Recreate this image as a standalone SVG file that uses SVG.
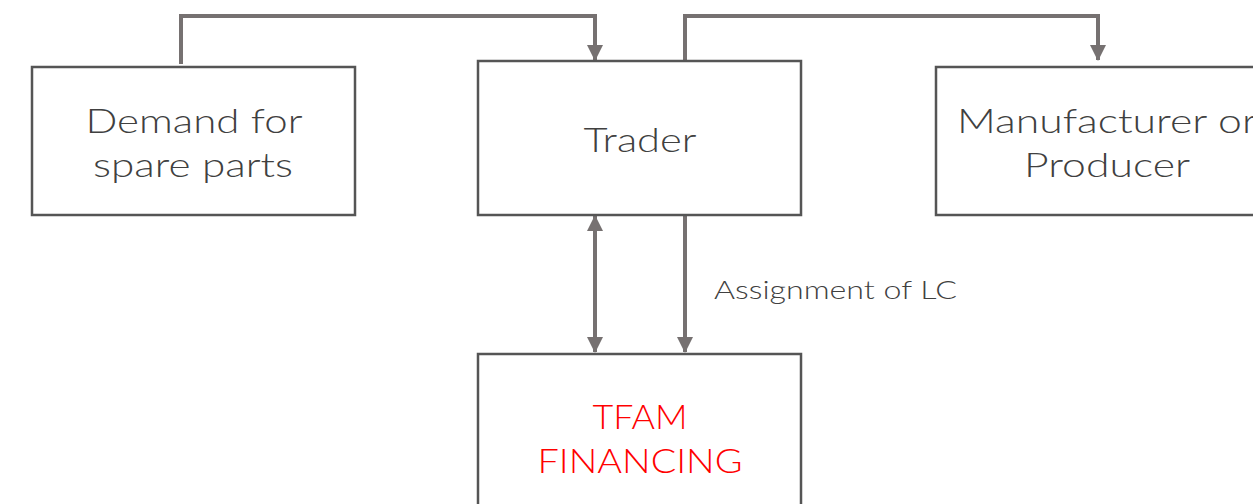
<svg xmlns="http://www.w3.org/2000/svg" width="1253" height="504" viewBox="0 0 1253 504">
<style>
.box{fill:#fff;stroke:#555;stroke-width:2.5}
.lbl{font-family:"Lato","Liberation Sans",sans-serif;font-weight:300;font-size:33px;fill:#404040;text-anchor:middle}
.red{fill:#ff0000}
.conn{fill:none;stroke:#767171;stroke-width:4}
.small{font-family:"Lato","Liberation Sans",sans-serif;font-weight:300;font-size:25px;fill:#404040}
</style>
<defs>
<marker id="ah" markerUnits="userSpaceOnUse" markerWidth="16" markerHeight="16" refX="15" refY="8" orient="auto-start-reverse" viewBox="0 0 16 16">
<path d="M0,0 L16,8 L0,16 Z" fill="#767171"/>
</marker>
</defs>
<g id="connectors">
<path class="conn" d="M181,64 V16 H595 V60" marker-end="url(#ah)"/>
<path class="conn" d="M685,63 V16 H1098 V60" marker-end="url(#ah)"/>
<path class="conn" d="M595,216 V352" marker-start="url(#ah)" marker-end="url(#ah)"/>
<path class="conn" d="M685,216 V352" marker-end="url(#ah)"/>
<text class="small" x="714" y="299" textLength="243" lengthAdjust="spacingAndGlyphs">Assignment of LC</text>
</g>
<g id="demand">
<rect class="box" x="32" y="67" width="323" height="148"/>
<text class="lbl" x="194" y="133" textLength="217" lengthAdjust="spacingAndGlyphs">Demand for</text>
<text class="lbl" x="193" y="177" textLength="200" lengthAdjust="spacingAndGlyphs">spare parts</text>
</g>
<g id="trader">
<rect class="box" x="478" y="61" width="323" height="154"/>
<text class="lbl" x="640" y="152" textLength="113" lengthAdjust="spacingAndGlyphs">Trader</text>
</g>
<g id="manufacturer">
<rect class="box" x="936" y="67" width="342" height="148"/>
<text class="lbl" x="1107" y="133" textLength="300" lengthAdjust="spacingAndGlyphs">Manufacturer or</text>
<text class="lbl" x="1107" y="177" textLength="166" lengthAdjust="spacingAndGlyphs">Producer</text>
</g>
<g id="tfam">
<rect class="box" x="478" y="354" width="323" height="170"/>
<text class="lbl red" x="640" y="429" textLength="95" lengthAdjust="spacingAndGlyphs">TFAM</text>
<text class="lbl red" x="640" y="473" textLength="205" lengthAdjust="spacingAndGlyphs">FINANCING</text>
</g>
</svg>
